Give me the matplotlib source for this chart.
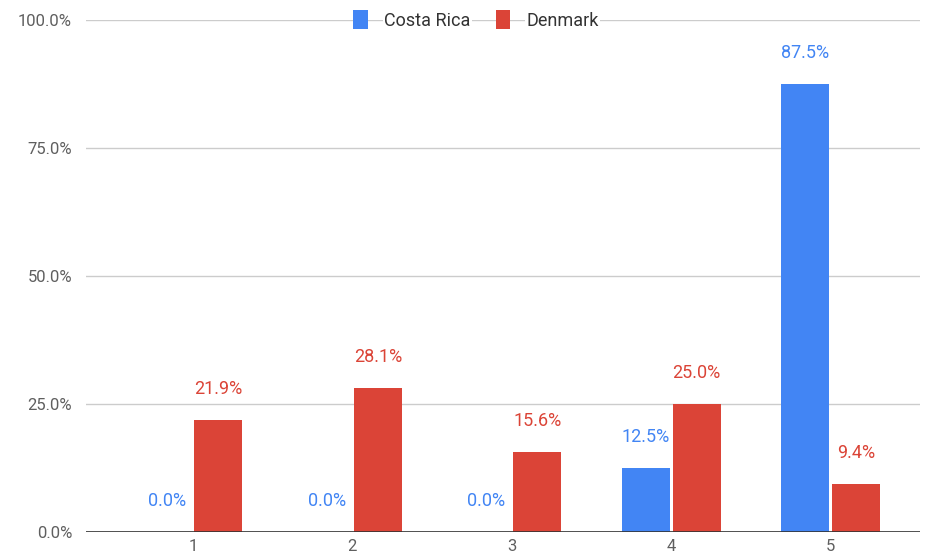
import matplotlib.pyplot as plt
import numpy as np
from matplotlib.patches import Patch

plt.rcParams['font.family'] = ['Roboto', 'DejaVu Sans']

# Data
categories = ['1', '2', '3', '4', '5']
costa_rica = [0.0, 0.0, 0.0, 12.5, 87.5]
denmark = [21.9, 28.1, 15.6, 25.0, 9.4]

blue = '#4285F4'
red = '#DB4437'

fig = plt.figure(figsize=(9.32, 5.6), dpi=100)
ax = fig.add_axes([86 / 932, 1 - 532 / 560, (920 - 86) / 932, (532 - 20) / 560])

x = np.arange(1, len(categories) + 1)
w = 0.30
gap = 0.01
b1 = ax.bar(x - w / 2 - gap, costa_rica, width=w, color=blue, zorder=3)
b2 = ax.bar(x + w / 2 + gap, denmark, width=w, color=red, zorder=3)

# value labels above bars
for bars, vals, col in [(b1, costa_rica, blue), (b2, denmark, red)]:
    for bar, v in zip(bars, vals):
        ax.annotate(f'{v:.1f}%', (bar.get_x() + bar.get_width() / 2, v),
                    xytext=(0, 22.5), textcoords='offset points',
                    ha='center', va='center', color=col, fontsize=13,
                    zorder=4)

ax.set_xlim(0.33, 5.56)
ax.set_ylim(0, 100)
ax.set_xticks(x)
ax.set_xticklabels(categories)
ax.set_yticks([0, 25, 50, 75, 100])
ax.set_yticklabels(['0.0%', '25.0%', '50.0%', '75.0%', '100.0%'])
ax.tick_params(length=0, labelsize=12, labelcolor='#5f5f5f', pad=10)
ax.tick_params(axis='x', pad=5)

for s in ax.spines.values():
    s.set_visible(False)
ax.yaxis.grid(True, color='#cccccc', linewidth=1, zorder=0)
ax.axhline(0, color='#333333', linewidth=1.2, zorder=5)
ax.set_axisbelow(True)

# legend sitting on the top gridline
handles = [Patch(facecolor=blue, label='Costa Rica'), Patch(facecolor=red, label='Denmark')]
leg = fig.legend(handles=handles, loc='center', bbox_to_anchor=(476 / 932, 1 - 20 / 560),
                 ncol=2, frameon=False, fontsize=13, handlelength=0.8, handleheight=1.2,
                 handletextpad=0.9, columnspacing=1.4)
for t in leg.get_texts():
    t.set_color('#333333')
    t.set_bbox(dict(facecolor='white', edgecolor='none', pad=1))

fig.savefig('out.png', dpi=100)
